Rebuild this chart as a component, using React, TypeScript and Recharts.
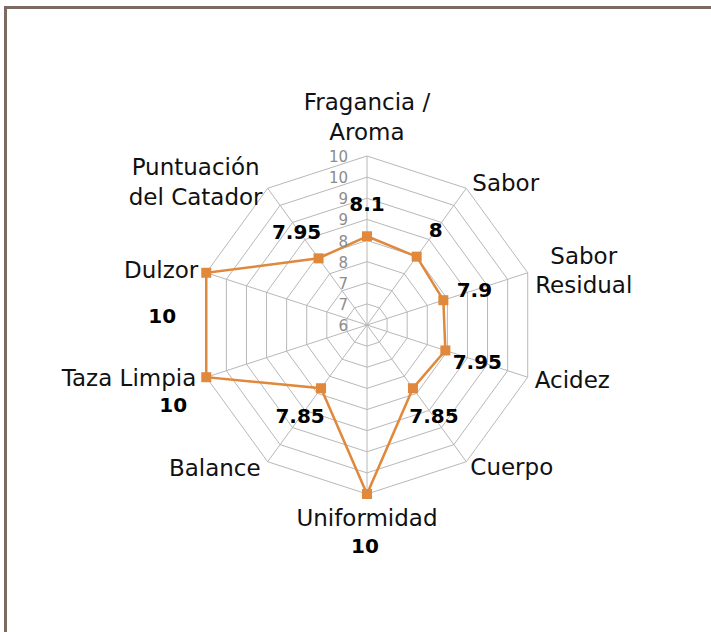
import {
  RadarChart,
  Radar,
  PolarGrid,
  PolarAngleAxis,
  PolarRadiusAxis,
  LabelList,
} from "recharts";

// categories clockwise from the top, label line breaks marked with \n
const categories = [
  "Fragancia /\nAroma",
  "Sabor",
  "Sabor\nResidual",
  "Acidez",
  "Cuerpo",
  "Uniformidad",
  "Balance",
  "Taza Limpia",
  "Dulzor",
  "Puntuación\ndel Catador",
];
const scores = [8.1, 8, 7.9, 7.95, 7.85, 10, 7.85, 10, 10, 7.95];
const radiusDomain = [6, 10];
const radiusTicks = [6, 6.5, 7, 7.5, 8, 8.5, 9, 9.5, 10];

const data = categories.map((category, i) => ({ category, score: scores[i] }));

const ORANGE = "#e0883b";
const FRAME = "#7b6b60";
const FONT = "'DejaVu Sans', sans-serif";

// where each category label sits relative to its outer grid vertex
const categoryLayout = [
  { dx: 0, dy: -54, anchor: "middle" },
  { dx: 6, dy: -5, anchor: "start" },
  { dx: 56, dy: -17, anchor: "middle" },
  { dx: 7, dy: 3, anchor: "start" },
  { dx: 4, dy: 5, anchor: "start" },
  { dx: 0, dy: 24, anchor: "middle" },
  { dx: -7, dy: 6, anchor: "end" },
  { dx: -10, dy: 1, anchor: "end" },
  { dx: -8, dy: -3, anchor: "end" },
  { dx: -72, dy: -21, anchor: "middle" },
];

// value label offsets from each point
const valueLayout = [
  { dx: 0, dy: -32 },
  { dx: 19, dy: -27 },
  { dx: 31, dy: -10 },
  { dx: 32, dy: 12 },
  { dx: 21, dy: 28 },
  { dx: -2, dy: 52 },
  { dx: -21, dy: 28 },
  { dx: -33, dy: 28 },
  { dx: -44, dy: 43 },
  { dx: -22, dy: -26 },
];

const CategoryTick = (props: any) => {
  const { payload, cx, cy, radius, x, y } = props;
  const idx = categories.indexOf(payload.value);
  const rad = (-payload.coordinate * Math.PI) / 180;
  let vx = x;
  let vy = y;
  if (cx !== undefined && cy !== undefined && radius !== undefined) {
    vx = cx + radius * Math.cos(rad);
    vy = cy + radius * Math.sin(rad);
  }
  const lay = categoryLayout[idx] || { dx: 0, dy: 0, anchor: "middle" };
  const lines = String(payload.value).split("\n");
  return (
    <text
      textAnchor={lay.anchor}
      fontFamily={FONT}
      fontSize={23}
      fill="#111"
    >
      {lines.map((line, i) => (
        <tspan key={i} x={vx + lay.dx} y={vy + lay.dy + 8 + i * 29.5}>
          {line}
        </tspan>
      ))}
    </text>
  );
};

const RadiusTick = ({ x, y, payload }: any) => (
  <text
    x={x - 19}
    y={y + 6}
    textAnchor="end"
    fontFamily={FONT}
    fontSize={15}
    fill="#8c8c8c"
  >
    {Math.round(payload.value)}
  </text>
);

const SquareDot = ({ cx, cy, index }: any) => (
  <rect key={index} x={cx - 5} y={cy - 5} width={10} height={10} fill={ORANGE} />
);

const ValueLabel = (props: any) => {
  const { index, value } = props;
  const x = props.x ?? props.viewBox?.x;
  const y = props.y ?? props.viewBox?.y;
  const off = valueLayout[index] || { dx: 0, dy: 0 };
  return (
    <text
      x={x + off.dx}
      y={y + off.dy + 7}
      textAnchor="middle"
      fontFamily={FONT}
      fontWeight="bold"
      fontSize={20}
      fill="#000"
    >
      {value}
    </text>
  );
};

export default function App() {
  return (
    <div
      style={{
        position: "fixed",
        left: 0,
        top: 0,
        width: 711,
        height: 632,
        overflow: "hidden",
        background: "#fff",
      }}
    >
      <svg
        width={711}
        height={632}
        style={{ position: "absolute", left: 0, top: 0 }}
      >
        <line x1={5.5} y1={7.5} x2={711} y2={7.5} stroke={FRAME} strokeWidth={3} />
        <line x1={5.5} y1={6} x2={5.5} y2={632} stroke={FRAME} strokeWidth={3} />
      </svg>
      <div style={{ position: "absolute", left: 0, top: 0 }}>
        <RadarChart
          width={711}
          height={632}
          data={data}
          cx={367}
          cy={325}
          outerRadius={169}
          margin={{ top: 0, right: 0, bottom: 0, left: 0 }}
        >
          <PolarGrid gridType="polygon" stroke="#b8b8b8" strokeWidth={1} />
          <PolarAngleAxis
            dataKey="category"
            tick={<CategoryTick />}
            tickLine={false}
            axisLine={false}
          />
          <PolarRadiusAxis
            angle={90}
            domain={radiusDomain}
            ticks={radiusTicks as any}
            tickCount={9}
            type="number"
            axisLine={false}
            tickLine={false}
            tick={<RadiusTick />}
          />
          <Radar
            dataKey="score"
            stroke={ORANGE}
            strokeWidth={2.5}
            fill="none"
            fillOpacity={0}
            dot={<SquareDot />}
            isAnimationActive={false}
          >
            <LabelList dataKey="score" content={<ValueLabel />} />
          </Radar>
        </RadarChart>
      </div>
    </div>
  );
}
